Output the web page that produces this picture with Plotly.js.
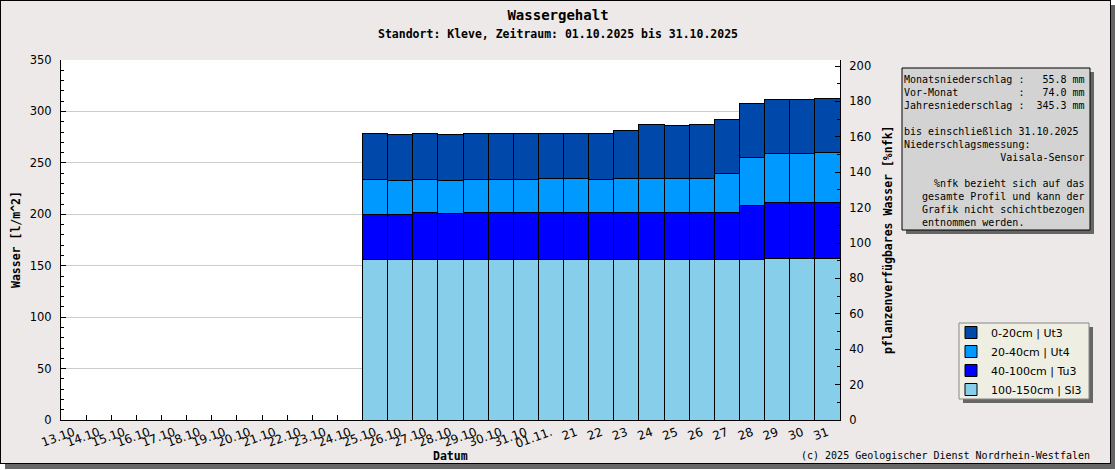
<!DOCTYPE html>
<html>
<head>
<meta charset="utf-8">
<script src="https://cdn.plot.ly/plotly-3.0.1.min.js"></script>
<style>
html,body{margin:0;padding:0;background:#ffffff;}
#gd{position:absolute;left:0;top:0;width:1109px;height:462px;border:1px solid #000;box-shadow:5px 5px 0 #666;background:#ECE9E8;}
</style>
</head>
<body>
<div id="gd"></div>
<script>
// ---- data ----
const categories = ["13.10","14.10","15.10","16.10","17.10","18.10","19.10","20.10","21.10","22.10","23.10","24.10","25.10","26.10","27.10","28.10","29.10","30.10","31.10","01.11.","21","22","23","24","25","26","27","28","29","30","31"];
const barDates = ["25.10","26.10","27.10","28.10","29.10","30.10","31.10","01.11.","21","22","23","24","25","26","27","28","29","30","31"];
const layer100_150 = [156.3,156.3,156.3,156.3,156.3,156.3,156.3,156.3,156.3,156.3,156.3,156.3,156.3,156.3,156.3,156.3,157.3,157.3,157.3];
const layer40_100 = [43.7,43.7,45.0,44.0,45.0,45.0,45.0,45.0,45.0,45.0,45.0,45.9,45.0,45.9,45.0,52.7,53.7,53.7,54.6];
const layer20_40 = [33.9,32.9,32.6,32.6,32.6,32.6,32.6,33.6,33.6,32.6,33.6,32.7,33.6,32.7,38.5,46.3,48.2,48.2,48.3];
const layer0_20 = [44.7,44.7,44.7,44.7,44.7,44.7,44.7,43.7,43.7,44.7,46.6,52.4,51.5,52.4,52.4,52.4,52.4,52.4,52.4];
const seriesNames = ["100-150cm | Sl3","40-100cm | Tu3","20-40cm | Ut4","0-20cm | Ut3"];
const seriesColors = ["#87CEEB","#0000FF","#0099FF","#0048AA"];
const infoLines = [
  "Monatsniederschlag :   55.8 mm",
  "Vor-Monat          :   74.0 mm",
  "Jahresniederschlag :  345.3 mm",
  "",
  "bis einschließlich 31.10.2025",
  "Niederschlagsmessung:",
  "                Vaisala-Sensor",
  "",
  "     %nfk bezieht sich auf das",
  "   gesamte Profil und kann der",
  "   Grafik nicht schichtbezogen",
  "   entnommen werden."
];

const mono = "DejaVu Sans Mono, monospace";
const sans = "DejaVu Sans, sans-serif";
const seriesData = [layer100_150, layer40_100, layer20_40, layer0_20];

const traces = seriesData.map((vals, i) => ({
  type: "bar",
  x: barDates,
  y: vals,
  name: seriesNames[i],
  marker: {color: seriesColors[i], line: {color: "#000", width: 1}},
  hoverinfo: "skip"
}));
traces.push({type: "scatter", x: [], y: [], yaxis: "y2", showlegend: false, hoverinfo: "skip"});

const info = infoLines.map(s => s.replace(/ /g, "\u00A0")).join("<br>");

// helpers: page px -> paper fraction
const PX = x => (x - 61) / 779;
const PY = y => (420 - y) / 360;

const layout = {
  width: 1109, height: 462,
  margin: {l: 60, r: 270, t: 59, b: 43},
  paper_bgcolor: "#ECE9E8",
  plot_bgcolor: "#FFFFFF",
  barmode: "stack",
  bargap: 0,
  title: {text: "<b>Wassergehalt</b>", font: {family: mono, size: 14, color: "#000"},
          xref: "paper", x: PX(558), xanchor: "center", yref: "container", y: 1 - 14/462, yanchor: "middle", automargin: false},
  xaxis: {
    type: "category", categoryorder: "array", categoryarray: categories,
    range: [-0.5, categories.length - 0.5], automargin: false,
    tickvals: categories, ticktext: categories,
    showline: true, linecolor: "#000", linewidth: 1,
    ticks: "inside", ticklen: 5, tickcolor: "#000", tickson: "boundaries",
    tickangle: -20, tickfont: {family: sans, size: 12, color: "#000"},
    showgrid: false, zeroline: false
  },
  yaxis: {
    range: [0, 350], dtick: 50, tick0: 0, automargin: false,
    showline: true, linecolor: "#000", linewidth: 1,
    ticks: "inside", ticklen: 5, tickcolor: "#000",
    minor: {dtick: 10, ticks: "inside", ticklen: 3, tickcolor: "#000", showgrid: false},
    gridcolor: "#CCCCCC", gridwidth: 1, zeroline: false,
    tickfont: {family: sans, size: 11.5, color: "#000"}, ticklabelstandoff: 6
  },
  yaxis2: {
    overlaying: "y", side: "right", anchor: "x", automargin: false,
    range: [0, 203.4], dtick: 20, tick0: 0,
    showline: true, linecolor: "#000", linewidth: 1,
    ticks: "inside", ticklen: 5, tickcolor: "#000",
    minor: {dtick: 10, ticks: "inside", ticklen: 3, tickcolor: "#000", showgrid: false},
    showgrid: false, zeroline: false,
    tickfont: {family: sans, size: 11.5, color: "#000"}, ticklabelstandoff: 6
  },
  showlegend: true,
  legend: {
    x: PX(951), y: PY(318), xanchor: "left", yanchor: "top",
    xref: "paper", yref: "paper",
    bgcolor: "rgba(0,0,0,0)", borderwidth: 0,
    traceorder: "reversed",
    font: {family: sans, size: 11, color: "#000"},
    tracegroupgap: 0, itemwidth: 30
  },
  shapes: [
    // info box shadow + box
    {type: "rect", xref: "paper", yref: "paper", x0: PX(906), x1: PX(1094), y0: PY(234), y1: PY(72),
     fillcolor: "#666", line: {width: 0}, layer: "above"},
    {type: "rect", xref: "paper", yref: "paper", x0: PX(902), x1: PX(1090), y0: PY(230), y1: PY(68),
     fillcolor: "#D3D3D3", line: {color: "#000", width: 1}, layer: "above"},
    // legend shadow + box
    {type: "rect", xref: "paper", yref: "paper", x0: PX(963), x1: PX(1093), y0: PY(403), y1: PY(327),
     fillcolor: "#666", line: {width: 0}, layer: "above"},
    {type: "rect", xref: "paper", yref: "paper", x0: PX(959), x1: PX(1089), y0: PY(399), y1: PY(323),
     fillcolor: "#EEEEE2", line: {color: "#888", width: 1}, layer: "above"}
  ],
  annotations: [
    {text: "<b>Standort: Kleve, Zeitraum: 01.10.2025 bis 31.10.2025</b>", xref: "paper", yref: "paper",
     x: PX(558), y: PY(34), xanchor: "center", yanchor: "middle", showarrow: false,
     font: {family: mono, size: 11.5, color: "#000"}},
    {text: "<b>Datum</b>", xref: "paper", yref: "paper", x: PX(450), y: PY(456),
     xanchor: "center", yanchor: "middle", showarrow: false, font: {family: mono, size: 11.5, color: "#000"}},
    {text: "<b>Wasser [l/m^2]</b>", xref: "paper", yref: "paper", x: PX(16), y: PY(240),
     xanchor: "center", yanchor: "middle", textangle: -90, showarrow: false, font: {family: mono, size: 11.5, color: "#000"}},
    {text: "<b>pflanzenverfügbares Wasser [%nfk]</b>", xref: "paper", yref: "paper", x: PX(888), y: PY(240),
     xanchor: "center", yanchor: "middle", textangle: -90, showarrow: false, font: {family: mono, size: 11.5, color: "#000"}},
    {text: "(c) 2025 Geologischer Dienst Nordrhein-Westfalen", xref: "paper", yref: "paper", x: PX(1092), y: PY(455),
     xanchor: "right", yanchor: "middle", showarrow: false, font: {family: mono, size: 10, color: "#000"}},
    {text: info, xref: "paper", yref: "paper", x: PX(904), y: PY(74), xanchor: "left", yanchor: "top",
     align: "left", showarrow: false, borderpad: 0, borderwidth: 0,
     font: {family: mono, size: 10, color: "#000"}}
  ]
};

Plotly.newPlot("gd", traces, layout, {staticPlot: true, displayModeBar: false});
</script>
</body>
</html>
